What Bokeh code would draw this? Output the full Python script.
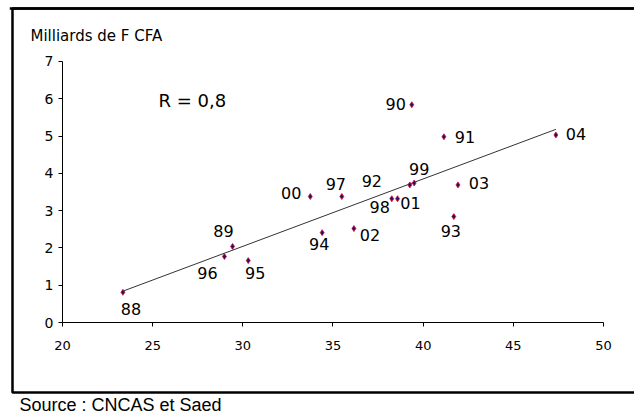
import numpy as np
from bokeh.plotting import figure
from bokeh.models import (ColumnDataSource, Range1d, LinearAxis, FixedTicker, Label,
                          BoxAnnotation, Span)
from bokeh.core.properties import value
from bokeh.embed import file_html
from bokeh.resources import INLINE

# ---- data ----
years = ["88", "89", "90", "91", "92", "93", "94", "95", "96",
         "97", "98", "99", "00", "01", "02", "03", "04"]
x_vals = [23.35, 29.43, 39.37, 41.15, 39.26, 41.70, 34.40, 30.30, 28.98,
          35.49, 38.26, 39.50, 33.74, 38.58, 36.16, 41.93, 47.36]
y_vals = [0.81, 2.04, 5.84, 4.98, 3.69, 2.84, 2.41, 1.66, 1.77,
          3.38, 3.32, 3.74, 3.38, 3.32, 2.52, 3.69, 5.03]
x_ticks = [20, 25, 30, 35, 40, 45, 50]
y_ticks = [0, 1, 2, 3, 4, 5, 6, 7]
y_title = "Milliards de F CFA"
r_text = "R = 0,8"
source_text = "Source : CNCAS et Saed"

# label placement (screen px, style only)
label_dx = [8, -9, -16, 21, -38, -3, -3, 7, -17, -6, -12, 5, -19, 13, 16, 21, 20]
label_dy = [17, -15, -1, 0, -4, 14, 11, 12, 16, -12, 8, -14, -3, 4, 6, -2, -1]

src = ColumnDataSource(dict(x=x_vals, y=y_vals, lab=years, dx=label_dx, dy=label_dy))

xr = Range1d(17.061, 51.72)
yr = Range1d(-2.467, 8.475)
p = figure(width=634, height=414, output_backend="svg", toolbar_location=None,
           x_range=xr, y_range=yr,
           x_axis_location=None, y_axis_location=None,
           min_border_left=9, min_border_right=0, min_border_top=6, min_border_bottom=0)
p.grid.visible = False
p.outline_line_color = None
p.background_fill_color = "white"
p.border_fill_color = "white"

# chart-area border (right side runs off the page as in the original)
p.add_layout(BoxAnnotation(left=17.227, right=xr.end + 10, bottom=-1.877, top=8.421,
                           fill_alpha=0, line_color="black", line_alpha=1.0,
                           line_width=2.5))
p.add_layout(Span(location=8.421, dimension="width", line_color="black", line_width=2.5))

xaxis = LinearAxis(fixed_location=0, bounds=(x_ticks[0], x_ticks[-1]),
                   ticker=FixedTicker(ticks=x_ticks))
xaxis.major_tick_in = 0
xaxis.major_tick_out = 4
xaxis.minor_tick_out = 0
xaxis.minor_tick_in = 0
xaxis.major_label_standoff = 14
xaxis.major_label_text_font = "DejaVu Sans"
xaxis.major_label_text_font_size = "13px"
xaxis.major_label_text_color = "black"
xaxis.axis_line_color = "black"
xaxis.major_tick_line_color = "black"
p.add_layout(xaxis, "below")

yaxis = LinearAxis(fixed_location=20, bounds=(y_ticks[0], y_ticks[-1]),
                   ticker=FixedTicker(ticks=y_ticks))
yaxis.major_tick_in = 0
yaxis.major_tick_out = 4
yaxis.minor_tick_out = 0
yaxis.minor_tick_in = 0
yaxis.major_label_standoff = 5
yaxis.major_label_text_font = "DejaVu Sans"
yaxis.major_label_text_font_size = "14px"
yaxis.major_label_text_color = "black"
yaxis.axis_line_color = "black"
yaxis.major_tick_line_color = "black"
p.add_layout(yaxis, "left")

# trend line (least squares on the data)
xa = np.array(x_vals)
ya = np.array(y_vals)
slope, intercept = np.polyfit(xa, ya, 1)
tx = [xa.min(), xa.max()]
ty = [slope * v + intercept for v in tx]
p.line(tx, ty, line_color="#333333", line_width=1)

p.scatter("x", "y", source=src, marker="diamond", size=6,
          fill_color="#22106a", line_color="#e01030", line_width=0.8)

p.text("x", "y", text="lab", source=src, x_offset="dx", y_offset="dy",
       text_align="center", text_baseline="middle",
       text_font=value("DejaVu Sans"), text_font_size="16px", text_color="black")

p.add_layout(Label(x=25.32, y=5.96, text=r_text, text_align="left", text_baseline="middle",
                   text_font="DejaVu Sans", text_font_size="18px", text_color="black"))

p.add_layout(Label(x=21, y=379, x_units="screen", y_units="screen", text=y_title,
                   text_align="left", text_baseline="middle",
                   text_font="DejaVu Sans", text_font_size="15px", text_color="black"))

p.add_layout(Label(x=10, y=10, x_units="screen", y_units="screen", text=source_text,
                   text_align="left", text_baseline="middle",
                   text_font="Liberation Sans", text_font_size="18px", text_color="black"))

open("out.html", "w").write(file_html(p, INLINE))
